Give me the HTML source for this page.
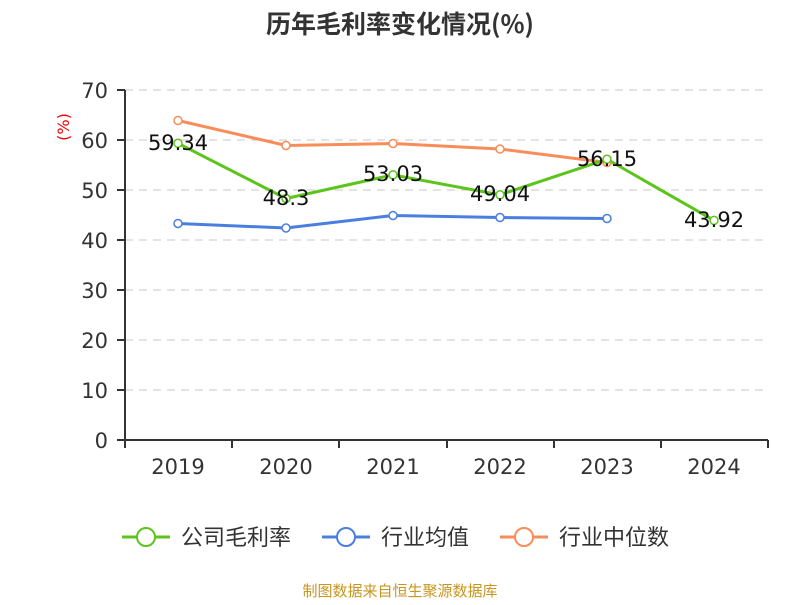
<!DOCTYPE html>
<html><head><meta charset="utf-8"><style>
body{margin:0;background:#fff;}
svg text{font-family:"DejaVu Sans","Noto Sans CJK SC",sans-serif;}
</style></head><body>
<svg width="800" height="600" xmlns="http://www.w3.org/2000/svg">
<rect width="800" height="600" fill="#fff"/>
<text x="400" y="33" text-anchor="middle" font-size="25" font-weight="bold" fill="#333" style="font-family:'Noto Sans CJK SC',sans-serif">历年毛利率变化情况(%)</text>
<g stroke="#c8c8c8" stroke-dasharray="8,6" stroke-width="1">
<line x1="125" x2="768" y1="90" y2="90"/><line x1="125" x2="768" y1="140" y2="140"/>
<line x1="125" x2="768" y1="190" y2="190"/><line x1="125" x2="768" y1="240" y2="240"/>
<line x1="125" x2="768" y1="290" y2="290"/><line x1="125" x2="768" y1="340" y2="340"/>
<line x1="125" x2="768" y1="390" y2="390"/>
</g>
<g stroke="#333" stroke-width="2">
<line x1="125" x2="125" y1="90" y2="440"/><line x1="125" x2="768" y1="440" y2="440"/>
<line x1="117" x2="125" y1="90" y2="90"/><line x1="117" x2="125" y1="140" y2="140"/>
<line x1="117" x2="125" y1="190" y2="190"/><line x1="117" x2="125" y1="240" y2="240"/>
<line x1="117" x2="125" y1="290" y2="290"/><line x1="117" x2="125" y1="340" y2="340"/>
<line x1="117" x2="125" y1="390" y2="390"/><line x1="117" x2="125" y1="440" y2="440"/>
<line x1="125" x2="125" y1="440" y2="448"/><line x1="232" x2="232" y1="440" y2="448"/>
<line x1="339" x2="339" y1="440" y2="448"/><line x1="447" x2="447" y1="440" y2="448"/>
<line x1="554" x2="554" y1="440" y2="448"/><line x1="661" x2="661" y1="440" y2="448"/>
<line x1="768" x2="768" y1="440" y2="448"/>
</g>
<g font-size="21" fill="#333" text-anchor="end">
<text x="108" y="98">70</text><text x="108" y="148">60</text><text x="108" y="198">50</text>
<text x="108" y="248">40</text><text x="108" y="298">30</text><text x="108" y="348">20</text>
<text x="108" y="398">10</text><text x="108" y="448">0</text>
</g>
<g font-size="21" fill="#333" text-anchor="middle">
<text x="178" y="474">2019</text><text x="286" y="474">2020</text><text x="393" y="474">2021</text>
<text x="500" y="474">2022</text><text x="607" y="474">2023</text><text x="714" y="474">2024</text>
</g>
<text transform="translate(69,127) rotate(-90)" font-size="16" fill="#e00" text-anchor="middle">(%)</text>
<polyline points="178,120.5 286,145.5 393,143.5 500,149 607,162.5" fill="none" stroke="#f98d5a" stroke-width="3"/>
<polyline points="178,223.5 286,228 393,215.5 500,217.5 607,218.5" fill="none" stroke="#4a7fe0" stroke-width="3"/>
<polyline points="178,143.3 286,198.5 393,174.85 500,194.8 607,159.25 714,220.4" fill="none" stroke="#5cc41a" stroke-width="3"/>
<g fill="#fff" stroke-width="1.5">
<g stroke="#f98d5a"><circle cx="178" cy="120.5" r="4"/><circle cx="286" cy="145.5" r="4"/><circle cx="393" cy="143.5" r="4"/><circle cx="500" cy="149" r="4"/><circle cx="607" cy="162.5" r="4"/></g>
<g stroke="#4a7fe0"><circle cx="178" cy="223.5" r="4"/><circle cx="286" cy="228" r="4"/><circle cx="393" cy="215.5" r="4"/><circle cx="500" cy="217.5" r="4"/><circle cx="607" cy="218.5" r="4"/></g>
<g stroke="#5cc41a"><circle cx="178" cy="143.3" r="4"/><circle cx="286" cy="198.5" r="4"/><circle cx="393" cy="174.85" r="4"/><circle cx="500" cy="194.8" r="4"/><circle cx="607" cy="159.25" r="4"/><circle cx="714" cy="220.4" r="4"/></g>
</g>
<g font-size="21" fill="#111" text-anchor="middle">
<text x="178" y="150">59.34</text><text x="286" y="205">48.3</text><text x="393" y="181">53.03</text>
<text x="500" y="201">49.04</text><text x="607" y="166">56.15</text><text x="714" y="227">43.92</text>
</g>
<g font-size="22" fill="#333">
<line x1="122" x2="170" y1="537" y2="537" stroke="#5cc41a" stroke-width="3"/><circle cx="146" cy="537" r="9" fill="#fff" stroke="#5cc41a" stroke-width="2"/>
<text x="181" y="545">公司毛利率</text>
<line x1="322" x2="370" y1="537" y2="537" stroke="#4a7fe0" stroke-width="3"/><circle cx="346" cy="537" r="9" fill="#fff" stroke="#4a7fe0" stroke-width="2"/>
<text x="381" y="545">行业均值</text>
<line x1="500" x2="548" y1="537" y2="537" stroke="#f98d5a" stroke-width="3"/><circle cx="524" cy="537" r="9" fill="#fff" stroke="#f98d5a" stroke-width="2"/>
<text x="559" y="545">行业中位数</text>
</g>
<text x="400" y="596" text-anchor="middle" font-size="15" fill="#c8961e">制图数据来自恒生聚源数据库</text>
</svg>
</body></html>
